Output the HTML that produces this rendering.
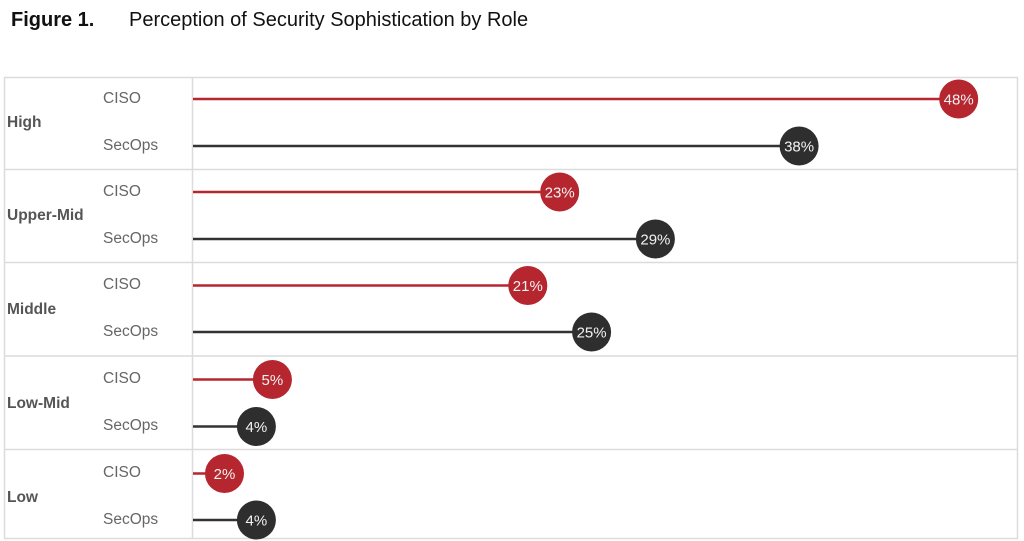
<!DOCTYPE html>
<html>
<head>
<meta charset="utf-8">
<style>
  html, body { margin:0; padding:0; background:#fff; }
  body { width:1024px; height:541px; overflow:hidden; }
  svg { display:block; }
  text { font-family: "Liberation Sans", Arial, sans-serif; }
</style>
</head>
<body>
<svg width="1024" height="541" viewBox="0 0 1024 541" xmlns="http://www.w3.org/2000/svg">
  <!-- Title -->
  <text x="11" y="26" font-size="20" font-weight="bold" fill="#111">Figure 1.</text>
  <text x="129" y="26" font-size="20" fill="#111">Perception of Security Sophistication by Role</text>

  <!-- Frame -->
  <rect x="4.5" y="77.5" width="1013" height="461" fill="none" stroke="#dcdcdc" stroke-width="1.5"/>
  <line x1="192.5" y1="77.5" x2="192.5" y2="538.5" stroke="#dcdcdc" stroke-width="1.5"/>
  <line x1="4.5" y1="169.5" x2="1017.5" y2="169.5" stroke="#dcdcdc" stroke-width="1.5"/>
  <line x1="4.5" y1="262.5" x2="1017.5" y2="262.5" stroke="#dcdcdc" stroke-width="1.5"/>
  <line x1="4.5" y1="356" x2="1017.5" y2="356" stroke="#dcdcdc" stroke-width="1.5"/>
  <line x1="4.5" y1="449.5" x2="1017.5" y2="449.5" stroke="#dcdcdc" stroke-width="1.5"/>

  <!-- Group labels -->
  <g font-size="15.5" font-weight="bold" fill="#555">
    <text x="7" y="127">High</text>
    <text x="7" y="220">Upper-Mid</text>
    <text x="7" y="314">Middle</text>
    <text x="7" y="408">Low-Mid</text>
    <text x="7" y="502">Low</text>
  </g>

  <!-- Role labels -->
  <g font-size="15.5" fill="#666">
    <text x="103" y="103">CISO</text>
    <text x="103" y="150">SecOps</text>
    <text x="103" y="196">CISO</text>
    <text x="103" y="243">SecOps</text>
    <text x="103" y="289">CISO</text>
    <text x="103" y="336">SecOps</text>
    <text x="103" y="383">CISO</text>
    <text x="103" y="430">SecOps</text>
    <text x="103" y="477">CISO</text>
    <text x="103" y="524">SecOps</text>
  </g>

  <!-- Lines -->
  <g stroke-width="2.5">
    <line x1="193" y1="99" x2="958.7" y2="99" stroke="#b5262f"/>
    <line x1="193" y1="146" x2="799.1" y2="146" stroke="#333"/>
    <line x1="193" y1="192" x2="559.7" y2="192" stroke="#b5262f"/>
    <line x1="193" y1="239" x2="655.4" y2="239" stroke="#333"/>
    <line x1="193" y1="285.5" x2="527.8" y2="285.5" stroke="#b5262f"/>
    <line x1="193" y1="332" x2="591.6" y2="332" stroke="#333"/>
    <line x1="193" y1="379.5" x2="272.4" y2="379.5" stroke="#b5262f"/>
    <line x1="193" y1="426.5" x2="256.4" y2="426.5" stroke="#333"/>
    <line x1="193" y1="473.5" x2="224.5" y2="473.5" stroke="#b5262f"/>
    <line x1="193" y1="520" x2="256.4" y2="520" stroke="#333"/>
  </g>

  <!-- Circles -->
  <g>
    <circle cx="958.7" cy="99" r="19.5" fill="#b5262f"/>
    <circle cx="799.1" cy="146" r="19.5" fill="#2e2e2e"/>
    <circle cx="559.7" cy="192" r="19.5" fill="#b5262f"/>
    <circle cx="655.4" cy="239" r="19.5" fill="#2e2e2e"/>
    <circle cx="527.8" cy="285.5" r="19.5" fill="#b5262f"/>
    <circle cx="591.6" cy="332" r="19.5" fill="#2e2e2e"/>
    <circle cx="272.4" cy="379.5" r="19.5" fill="#b5262f"/>
    <circle cx="256.4" cy="426.5" r="19.5" fill="#2e2e2e"/>
    <circle cx="224.5" cy="473.5" r="19.5" fill="#b5262f"/>
    <circle cx="256.4" cy="520" r="19.5" fill="#2e2e2e"/>
  </g>

  <!-- Circle labels -->
  <g font-size="15" fill="#f2f2f2" text-anchor="middle">
    <text x="958.7" y="104.5">48%</text>
    <text x="799.1" y="151.5">38%</text>
    <text x="559.7" y="197.5">23%</text>
    <text x="655.4" y="244.5">29%</text>
    <text x="527.8" y="291">21%</text>
    <text x="591.6" y="337.5">25%</text>
    <text x="272.4" y="385">5%</text>
    <text x="256.4" y="432">4%</text>
    <text x="224.5" y="479">2%</text>
    <text x="256.4" y="525.5">4%</text>
  </g>
</svg>
</body>
</html>
